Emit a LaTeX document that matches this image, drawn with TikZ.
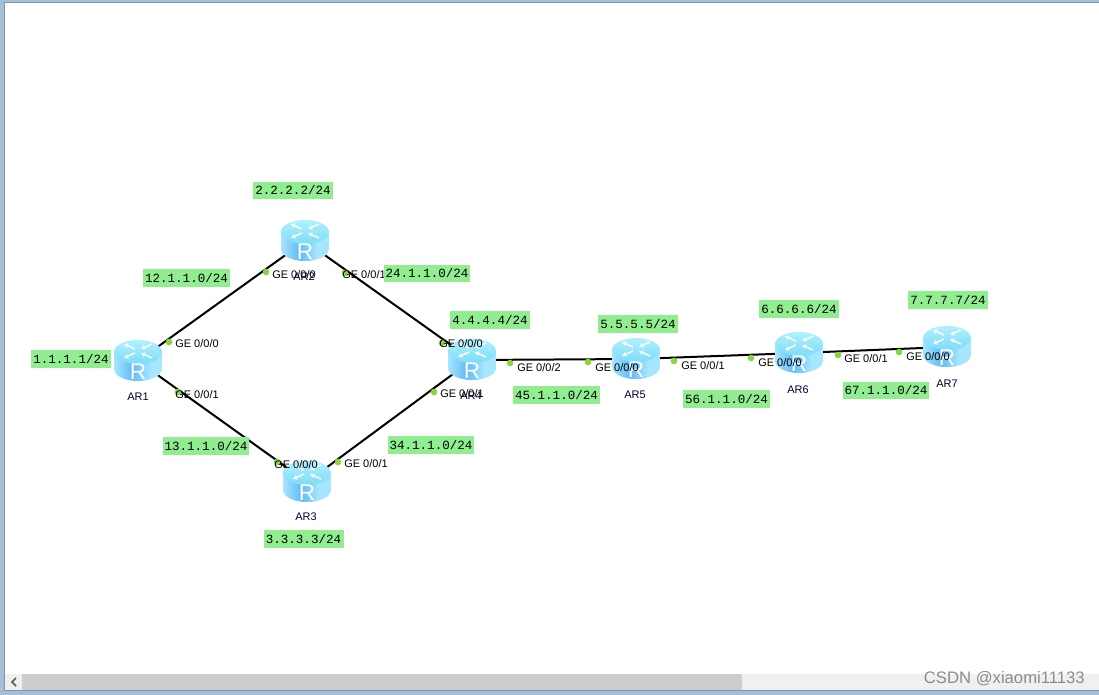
\documentclass[tikz,border=0pt]{standalone}
\usepackage{fontspec}
\setmainfont{Liberation Sans}
\newfontfamily\ipfont{Liberation Mono}
\usetikzlibrary{arrows.meta}
\definecolor{framec}{HTML}{A3C0D8}
\definecolor{frameedge}{HTML}{7F97AE}
\definecolor{ipgreen}{HTML}{90EE90}
\definecolor{dotc}{HTML}{86D63C}
\definecolor{bartrack}{HTML}{F0F0F0}
\definecolor{barthumb}{HTML}{CDCDCD}
\definecolor{bodyedge}{HTML}{A6E6FF}
\definecolor{bodymid}{HTML}{62BBF4}
\definecolor{topedge}{HTML}{B4F2FF}
\definecolor{topmid}{HTML}{7FDDF6}
\tikzset{
 x=0.75pt,y=-0.75pt,
 routerslot/.style={inner sep=0pt,minimum width=36pt,minimum height=31.5pt},
 link/.style={line width=1.5pt,black},
 portdot/.style={circle,fill=dotc,inner sep=0pt,minimum size=5pt},
 portlabel/.style={anchor=west,inner sep=0pt,font=\fontsize{8.25}{10}\selectfont},
 namelabel/.style={inner sep=0pt,text=black!80!blue,font=\fontsize{8.25}{10}\selectfont},
 iplabel/.style={fill=ipgreen,inner sep=0pt,minimum width=60pt,minimum height=13pt,font=\ipfont\fontsize{9.4}{11}\selectfont},
 netlabel/.style={iplabel,minimum width=65pt},
 routericon/.pic={
  \begin{scope}
   \clip (-24,-9) -- (-24,8) arc[start angle=180,end angle=0,x radius=24,y radius=12] -- (24,-9) -- cycle;
   \foreach \s in {-24,...,23}{
     \pgfmathtruncatemacro{\p}{min(100,abs(\s+6)*100/18)}
     \fill[bodyedge!\p!bodymid] (\s,-12) rectangle (\s+1.4,22);
   }
  \end{scope}
  \begin{scope}
   \clip (0,-9) ellipse[x radius=24,y radius=12];
   \foreach \s in {-22,...,2}{
     \pgfmathtruncatemacro{\p}{max(0,min(100,(2-\s)*4))}
     \fill[topedge!\p!topmid] (-25,\s) rectangle (25,\s+1.4);
   }
  \end{scope}
  \begin{scope}[shift={(0,-10)},yscale=0.5,white,line width=1.1pt,-{Latex[length=3pt,width=4pt]}]
   \draw (-3,-4) -- (-14,-14);
   \draw (14,-14) -- (3,-4);
   \draw (-3,4) -- (-14,14);
   \draw (14,14) -- (3,4);
  \end{scope}
  \node[text=white,inner sep=0pt,font=\fontsize{17}{17}\selectfont] at (0,11) {R};
 }
}
\begin{document}
\begin{tikzpicture}
\useasboundingbox (0,0) rectangle (1099,695);
% window
\fill[framec] (0,0) rectangle (1099,695);
\fill[frameedge] (4,2) rectangle (1099,691);
\fill[white] (5,3) rectangle (1099,690);
\fill[bartrack] (5,674) rectangle (1099,690);
\fill[barthumb] (22,674) rectangle (742,690);
\draw[line width=1.1pt,black!65] (16,678) -- (12,682) -- (16,686);
\node[inner sep=0pt,anchor=east,text=black!45,font=\fontsize{12.5}{14}\selectfont] (wm) at (1085,679) {CSDN @xiaomi11133};
% routers
\node[routerslot] (ar1) at (138,361) {};
\node[routerslot] (ar2) at (305,241) {};
\node[routerslot] (ar3) at (307,482) {};
\node[routerslot] (ar4) at (472,360) {};
\node[routerslot] (ar5) at (636,359) {};
\node[routerslot] (ar6) at (799,353) {};
\node[routerslot] (ar7) at (947,347) {};
% connectors
\draw[link] (ar1.center) -- (ar2.center);
\draw[link] (ar1.center) -- (ar3.center);
\draw[link] (ar2.center) -- (ar4.center);
\draw[link] (ar3.center) -- (ar4.center);
\draw[link] (ar4.center) -- (ar5.center);
\draw[link] (ar5.center) -- (ar6.center);
\draw[link] (ar6.center) -- (ar7.center);
% icons
\pic at (ar1) {routericon};
\pic at (ar2) {routericon};
\pic at (ar3) {routericon};
\pic at (ar4) {routericon};
\pic at (ar5) {routericon};
\pic at (ar6) {routericon};
\pic at (ar7) {routericon};
% port dots
\node[portdot] (d1) at (169,342) {};
\node[portdot] (d2) at (178,392) {};
\node[portdot] (d3) at (266,272) {};
\node[portdot] (d4) at (345,273) {};
\node[portdot] (d5) at (277,462) {};
\node[portdot] (d6) at (338,462) {};
\node[portdot] (d7) at (442,343) {};
\node[portdot] (d8) at (434,392) {};
\node[portdot] (d9) at (510,363) {};
\node[portdot] (d10) at (588,362) {};
\node[portdot] (d11) at (674,361) {};
\node[portdot] (d12) at (751,358) {};
\node[portdot] (d13) at (838,355) {};
\node[portdot] (d14) at (899,352) {};
% router names
\node[namelabel] (n1) at (138,397) {AR1};
\node[namelabel] (n2) at (304,277) {AR2};
\node[namelabel] (n3) at (306,517) {AR3};
\node[namelabel] (n4) at (471,396) {AR4};
\node[namelabel] (n5) at (635,395) {AR5};
\node[namelabel] (n6) at (798,390) {AR6};
\node[namelabel] (n7) at (947,384) {AR7};
% port labels
\node[portlabel] (p1) at (175,344) {GE 0/0/0};
\node[portlabel] (p2) at (175,395) {GE 0/0/1};
\node[portlabel] (p3) at (272,275) {GE 0/0/0};
\node[portlabel] (p4) at (342,275) {GE 0/0/1};
\node[portlabel] (p5) at (274,465) {GE 0/0/0};
\node[portlabel] (p6) at (344,464) {GE 0/0/1};
\node[portlabel] (p7) at (439,344) {GE 0/0/0};
\node[portlabel] (p8) at (440,394) {GE 0/0/1};
\node[portlabel] (p9) at (517,368) {GE 0/0/2};
\node[portlabel] (p10) at (595,368) {GE 0/0/0};
\node[portlabel] (p11) at (681,366) {GE 0/0/1};
\node[portlabel] (p12) at (758,363) {GE 0/0/0};
\node[portlabel] (p13) at (844,359) {GE 0/0/1};
\node[portlabel] (p14) at (906,357) {GE 0/0/0};
% address labels
\node[iplabel] (i2) at (293,190.5) {2.2.2.2/24};
\node[iplabel] (i1) at (71,359) {1.1.1.1/24};
\node[iplabel] (i4) at (490,320) {4.4.4.4/24};
\node[iplabel] (i5) at (638,324) {5.5.5.5/24};
\node[iplabel] (i6) at (799,309) {6.6.6.6/24};
\node[iplabel] (i7) at (948,300) {7.7.7.7/24};
\node[iplabel] (i3) at (303.5,539) {3.3.3.3/24};
\node[netlabel] (s12) at (186.5,278) {12.1.1.0/24};
\node[netlabel] (s24) at (427,273.5) {24.1.1.0/24};
\node[netlabel] (s13) at (206,446) {13.1.1.0/24};
\node[netlabel] (s34) at (431,445) {34.1.1.0/24};
\node[netlabel] (s45) at (556.5,395) {45.1.1.0/24};
\node[netlabel] (s56) at (726.5,399) {56.1.1.0/24};
\node[netlabel] (s67) at (886,390.5) {67.1.1.0/24};
\end{tikzpicture}
\end{document}
